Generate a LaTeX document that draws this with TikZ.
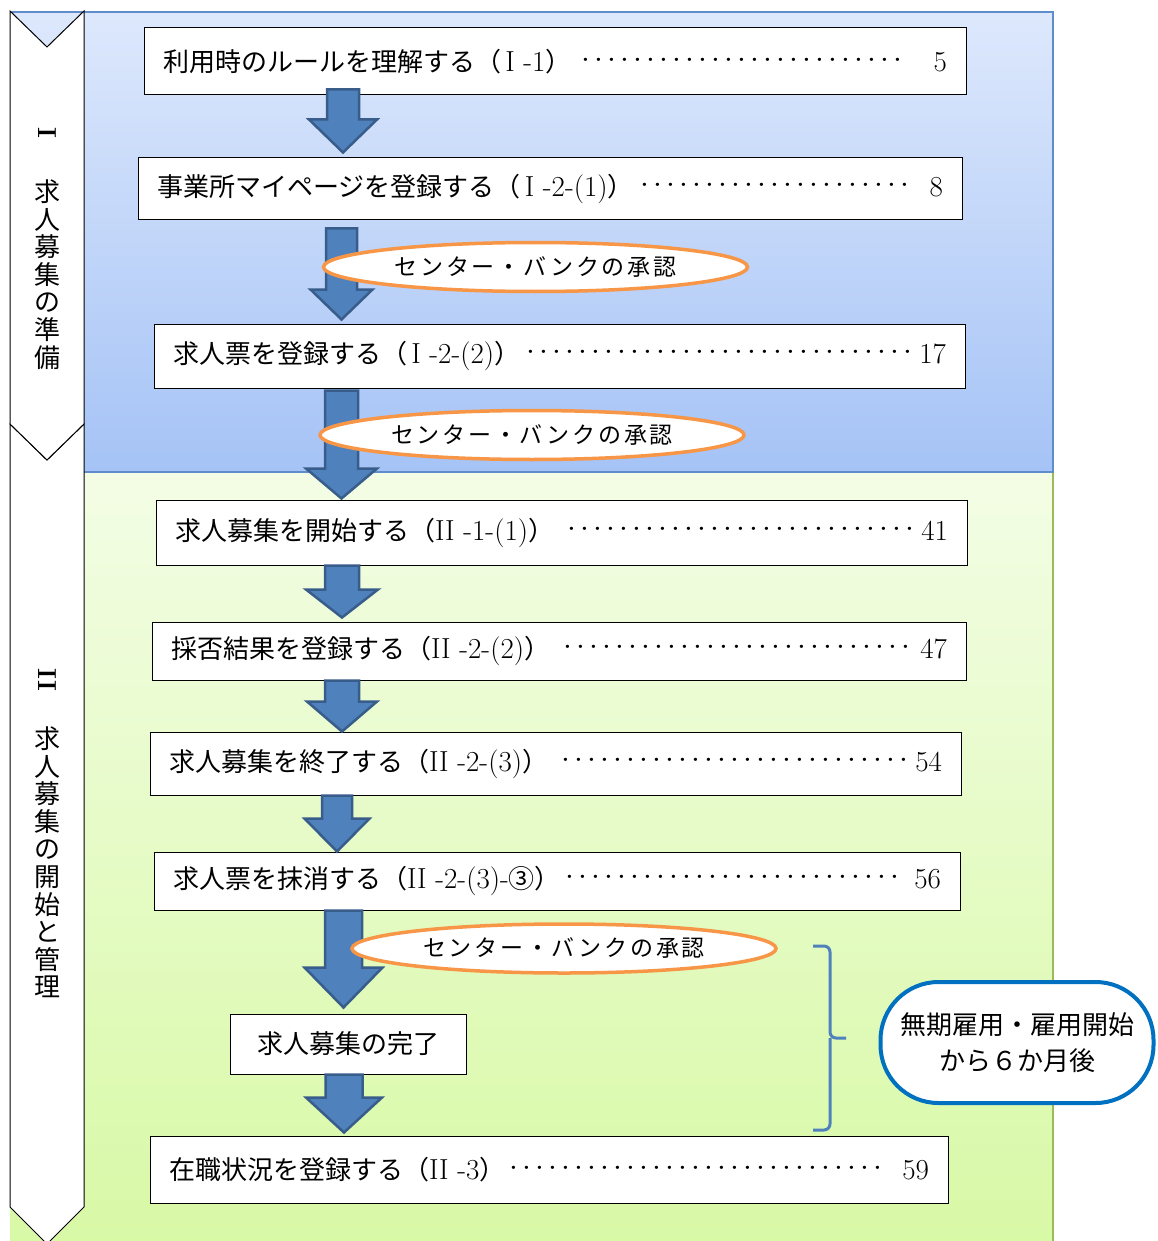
\documentclass[tikz,border=0pt]{standalone}
\usepackage{fontspec}
\newfontfamily\cjk{Noto Sans CJK JP}
\newfontfamily\cjksp[LetterSpace=12]{Noto Sans CJK JP}
\usetikzlibrary{calc,shapes.geometric}
\definecolor{arrowfill}{HTML}{4F81BD}
\definecolor{arrowline}{HTML}{385D8A}
\definecolor{ovalline}{HTML}{F79646}
\definecolor{bluetop}{HTML}{DDE8FC}
\definecolor{bluebot}{HTML}{A5C3F6}
\definecolor{blueedge}{HTML}{5F8CCB}
\definecolor{greentop}{HTML}{F3FDE5}
\definecolor{greenbot}{HTML}{D8F9A6}
\definecolor{greenedge}{HTML}{9BBB59}
\definecolor{stadline}{HTML}{0070C0}
\newcommand\lm[1]{{\normalfont\fontsize{29}{30}\selectfont #1}}
\newcommand\lead{\leaders\hbox to 13pt{\hss{\normalfont\fontsize{40}{30}\selectfont\raisebox{-2.2pt}{\textperiodcentered}}\hss}\hskip 0pt plus 1fill}
\newcommand\blockarrow[8]{%
  \coordinate (ta0) at (#1,0 |- #2.south);
  \coordinate (tb0) at (#1,0 |- #3.north);
  \coordinate (ta) at ($(ta0)+(0,#4)$);
  \coordinate (tb) at ($(tb0)+(0,-#5)$);
  \draw[blk] ($(ta)+(-#6,0)$) -- ($(ta)+(#6,0)$) -- ($(tb)+(#6,-#8)$) -- ($(tb)+(#7,-#8)$) -- (tb) -- ($(tb)+(-#7,-#8)$) -- ($(tb)+(-#6,-#8)$) -- cycle;
}
\tikzset{
  stepbox/.style={draw=black, line width=1pt, fill=white, inner xsep=19pt, inner ysep=0pt, align=left,
    font=\cjk\fontsize{26}{30}\selectfont},
  blk/.style={fill=arrowfill, draw=arrowline, line width=2.5pt, line join=miter},
  oval/.style={ellipse, draw=ovalline, line width=3.5pt, fill=white, inner sep=0pt,
    minimum width=424pt, minimum height=49pt, font=\cjksp\fontsize{23}{25}\selectfont},
  chev/.style={draw=black, line width=1pt, fill=white, line join=miter},
  vtext/.style={inner sep=0pt, align=center, font=\cjk\fontsize{26}{27.6}\selectfont},
  numeral/.style={inner sep=0pt, font=\normalfont\bfseries\fontsize{26}{27}\selectfont},
  brace/.style={draw=arrowfill, line width=3pt, rounded corners=6pt},
}
\begin{document}
\begin{tikzpicture}[x=1pt, y=-1pt]
\useasboundingbox (0,0) rectangle (1157,1241);
% panels
\path[top color=greentop, bottom color=greenbot] (10,472) rectangle (1053,1241);
\draw[greenedge, line width=1.5pt] (1053,472) -- (1053,1241);
\path[top color=bluetop, bottom color=bluebot] (10,12) rectangle (1053,472);
\draw[blueedge, line width=1.5pt] (10,12) -- (1053,12) -- (1053,472) -- (10,472);
% chevrons
\draw[chev] (10,424) -- (47,460) -- (84,424) -- (84,1207) -- (47,1244) -- (10,1207) -- cycle;
\draw[chev] (10,11) -- (47,47) -- (84,11) -- (84,424) -- (47,460) -- (10,424) -- cycle;
\node[numeral] (n1) at (47,133) {\rotatebox{-90}{I}};
\node[vtext] (v1) at (47,274.5) {求\\人\\募\\集\\の\\準\\備};
\node[numeral] (n2) at (47,680) {\rotatebox{-90}{II}};
\node[vtext] (v2) at (47,862.5) {求\\人\\募\\集\\の\\開\\始\\と\\管\\理};
% boxes
\node[stepbox, text width=784pt, minimum height=67pt] (b1) at (555,61.5)
  {利用時のルールを理解する（\,\lm{I -1}）\lead\hspace{0.7em}\lm{5}};
\node[stepbox, text width=786pt, minimum height=62pt] (b2) at (550,189)
  {事業所マイページを登録する（\,\lm{I -2-(1)}）\lead\hspace{0.7em}\lm{8}};
\node[stepbox, text width=773pt, minimum height=64pt] (b3) at (559.5,356)
  {求人票を登録する（\,\lm{I -2-(2)}）\lead\hspace{3pt}\lm{17}};
\node[stepbox, text width=773pt, minimum height=65pt] (b4) at (561.5,532.5)
  {求人募集を開始する（\lm{II -1-(1)}）\lead\hspace{3pt}\lm{41}};
\node[stepbox, text width=776pt, minimum height=58pt] (b5) at (559,651)
  {採否結果を登録する（\lm{II -2-(2)}）\lead\hspace{3pt}\lm{47}};
\node[stepbox, text width=773pt, minimum height=63pt] (b6) at (555.5,763.5)
  {求人募集を終了する（\lm{II -2-(3)}）\lead\hspace{3pt}\lm{54}};
\node[stepbox, text width=768pt, minimum height=58pt] (b7) at (557,881)
  {求人票を抹消する（\lm{II -2-(3)-}③）\lead\hspace{4pt}\lm{56}};
\node[stepbox, minimum width=236pt, minimum height=60pt, inner xsep=0pt] (b8) at (348,1044)
  {求人募集の完了};
\node[stepbox, text width=760pt, minimum height=67pt] (b9) at (549,1169.5)
  {在職状況を登録する（\lm{II -3}）\lead\hspace{0.7em}\lm{59}};
% block arrows
\blockarrow{343}{b1}{b2}{-6}{5}{16}{34}{33}
\blockarrow{341.5}{b2}{b3}{8}{4}{15.5}{31}{30}
\blockarrow{341.5}{b3}{b4}{2}{1}{16.5}{35.5}{30}
\blockarrow{342}{b4}{b5}{0}{4}{17}{36}{28}
\blockarrow{342}{b5}{b6}{0}{0}{17}{35}{30}
\blockarrow{337}{b6}{b7}{0}{0}{15}{32.5}{33}
\blockarrow{343.5}{b7}{b8}{0}{6}{18.5}{39}{40}
\blockarrow{344}{b8}{b9}{0}{3}{18.5}{38}{35}
% approval ovals
\node[oval] (e1) at (535.5,267) {センター・バンクの承認};
\node[oval] (e2) at (532,435) {センター・バンクの承認};
\node[oval] (e3) at (564,948.5) {センター・バンクの承認};
% brace
\coordinate (brt) at (813,946);
\coordinate (brm) at (846,1038);
\coordinate (brb) at (813,1130);
\draw[brace] (brt) -- (830,946) -- (830,1038) -- (brm);
\draw[brace] (brb) -- (830,1130) -- (830,1038);
% stadium note
\node[draw=stadline, line width=4pt, fill=white, rounded corners=58pt, minimum width=273pt,
  minimum height=121pt, align=center, inner sep=0pt, font=\cjk\fontsize{26}{36}\selectfont]
  (st) at (1017,1042.5) {無期雇用・雇用開始\\から６か月後};
\end{tikzpicture}
\end{document}
